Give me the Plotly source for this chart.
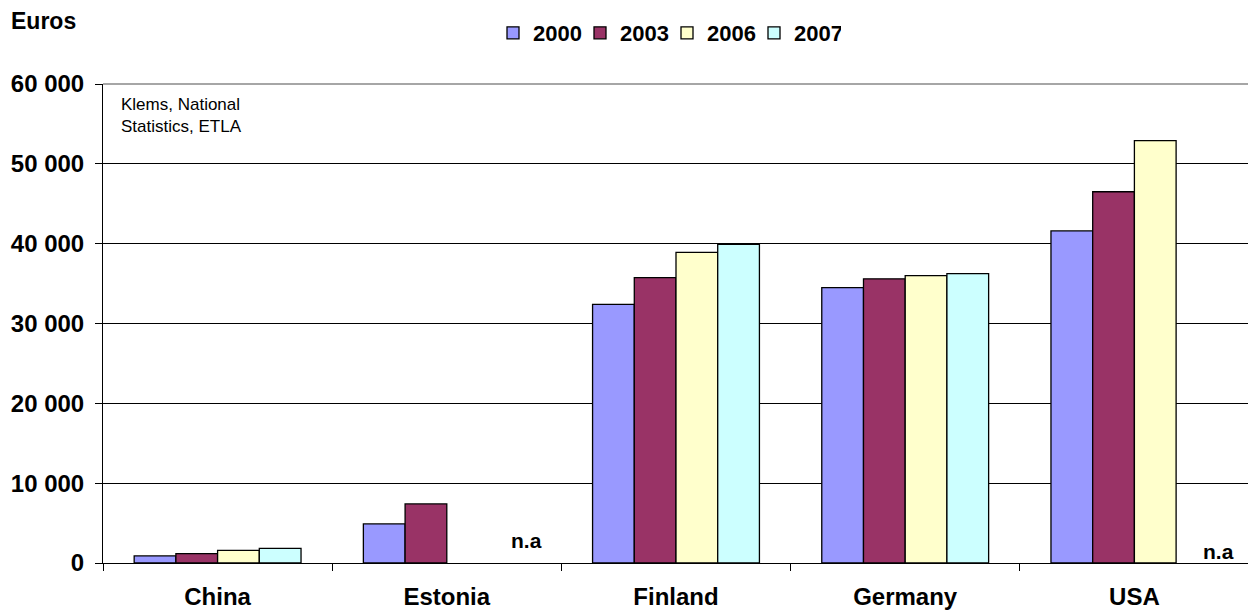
import plotly.graph_objects as go

countries = ["China", "Estonia", "Finland", "Germany", "USA"]
years = ["2000", "2003", "2006", "2007"]
v2000 = [880, 4900, 32400, 34500, 41600]
v2003 = [1170, 7400, 35750, 35600, 46500]
v2006 = [1590, None, 38900, 36000, 52900]
v2007 = [1840, None, 39900, 36250, None]
colors = ["#9999FF", "#993366", "#FFFFCC", "#CCFFFF"]
series = [v2000, v2003, v2006, v2007]

# page body has an 8px default margin; compensate so the plot lands where intended
OFF = 8
W, H = 1256 - OFF, 612 - OFF
ml, mr, mt, mb = 103 - OFF, 7, 84 - OFF, 49
pw, ph = W - ml - mr, H - mt - mb

FONT = "Liberation Sans, Arial, sans-serif"

fig = go.Figure()
for name, vals, col in zip(years, series, colors):
    fig.add_trace(go.Bar(
        x=countries, y=vals, name=name,
        marker=dict(color=col, line=dict(color="black", width=1.3)),
    ))

def px_x(px):  # page pixel -> paper
    return (px - OFF - ml) / pw

def px_y(py):
    return (H - mb - (py - OFF)) / ph

annotations = [
    dict(text="<b>Euros</b>", xref="paper", yref="paper", x=px_x(9), y=px_y(21),
         xanchor="left", yanchor="middle", showarrow=False,
         font=dict(size=23, color="black", family=FONT)),
    dict(text="Klems, National<br>Statistics, ETLA", xref="paper", yref="paper",
         x=px_x(119), y=px_y(93), xanchor="left", yanchor="top", showarrow=False,
         align="left", font=dict(size=17, color="black", family=FONT)),
    dict(text="<b>n.a</b>", xref="paper", yref="paper", x=px_x(526), y=px_y(540),
         xanchor="center", yanchor="middle", showarrow=False,
         font=dict(size=21, color="black", family=FONT)),
    dict(text="<b>n.a</b>", xref="paper", yref="paper", x=px_x(1218), y=px_y(551),
         xanchor="center", yanchor="middle", showarrow=False,
         font=dict(size=21, color="black", family=FONT)),
]

fig.update_layout(
    width=W, height=H,
    margin=dict(l=ml, r=mr, t=mt, b=mb, autoexpand=False),
    paper_bgcolor="white", plot_bgcolor="white",
    barmode="group", bargap=0.272, bargroupgap=0,
    separators=". ",
    font=dict(family=FONT, color="black"),
    legend=dict(orientation="h", x=px_x(667), y=px_y(33), xanchor="center", yanchor="middle",
                font=dict(size=22, family=FONT, color="black", weight="bold"),
                itemwidth=30, traceorder="normal", entrywidth=42, entrywidthmode="pixels"),
    annotations=annotations,
    xaxis=dict(showline=True, linecolor="black", linewidth=1, ticks="outside",
               tickson="boundaries", ticklen=7, tickcolor="black",
               ticklabelstandoff=12,
               tickfont=dict(size=24, family=FONT, color="black", weight="bold"),
               showgrid=False),
    yaxis=dict(range=[0, 60000], dtick=10000, tickformat=",", showline=True,
               linecolor="black", linewidth=1, ticks="outside", ticklen=7,
               tickcolor="black", showgrid=True, gridcolor="black", gridwidth=1,
               ticklabelstandoff=6,
               tickfont=dict(size=24, family=FONT, color="black", weight="bold"),
               zeroline=False),
    shapes=[dict(type="line", xref="paper", yref="paper", x0=1, x1=1, y0=0, y1=1,
                 line=dict(color="#888888", width=1.5)),
            dict(type="line", xref="paper", yref="paper", x0=0, x1=1, y0=1, y1=1,
                 line=dict(color="#888888", width=1.5))],
)

fig.write_html("out.html")
